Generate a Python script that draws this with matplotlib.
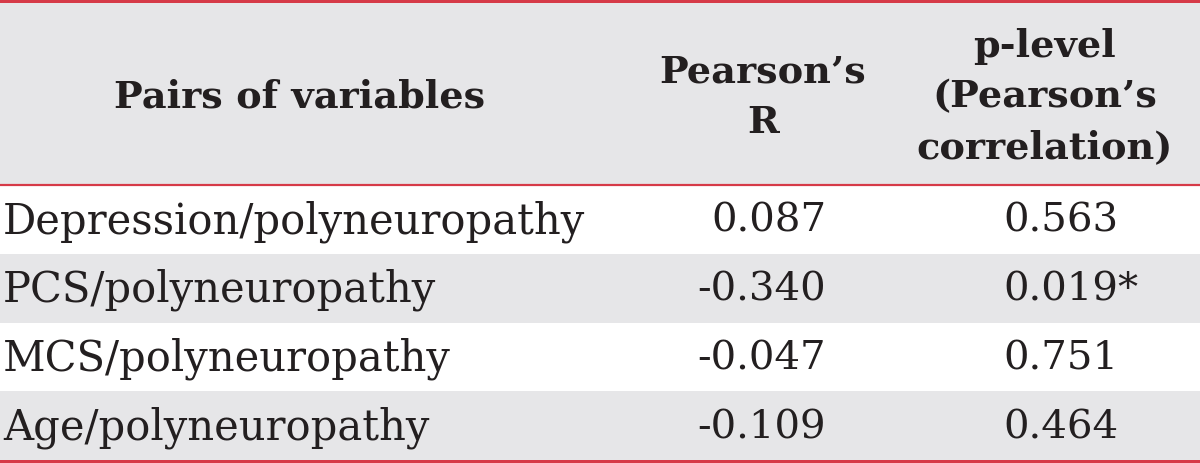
import matplotlib.pyplot as plt

pairs = ["Depression/polyneuropathy", "PCS/polyneuropathy",
         "MCS/polyneuropathy", "Age/polyneuropathy"]
pearson_r = ["0.087", "-0.340", "-0.047", "-0.109"]
p_level = ["0.563", "0.019*", "0.751", "0.464"]
headers = ["Pairs of variables", "Pearson\u2019s\nR", "p-level\n(Pearson\u2019s\ncorrelation)"]

grey = "#e6e6e8"
red = "#d63a48"
ink = "#231f20"
serif = "DejaVu Serif"

fig = plt.figure(figsize=(12, 4.64), dpi=100)
ax = fig.add_axes([0, 0, 1, 1])
ax.set_xlim(0, 1200)
ax.set_ylim(464, 0)
ax.axis("off")

# header band
ax.axhspan(2, 186, color=grey, lw=0)
row_top = 186
row_h = 68.75
for i in range(len(pairs)):
    y0 = row_top + i * row_h
    if i % 2 == 1:
        ax.axhspan(y0, y0 + row_h, color=grey, lw=0)
    yc = y0 + row_h / 2 + 1
    ax.text(3, yc, pairs[i], ha="left", va="center", fontsize=30,
            family=serif, color=ink)
    ax.text(826, yc, pearson_r[i], ha="right", va="center", fontsize=29,
            family=serif, color=ink)
    ax.text(1003, yc, p_level[i], ha="left", va="center", fontsize=29,
            family=serif, color=ink)

hx = [300, 763, 1045]
for x, h in zip(hx, headers):
    ax.text(x, 97, h, ha="center", va="center", fontsize=27.5, fontweight="bold",
            family=serif, color=ink, linespacing=1.48)

for y, w in [(1.5, 3), (186, 2.2), (462, 3)]:
    ax.axhline(y, color=red, lw=w * 0.72)

fig.savefig("out.png", dpi=100)
